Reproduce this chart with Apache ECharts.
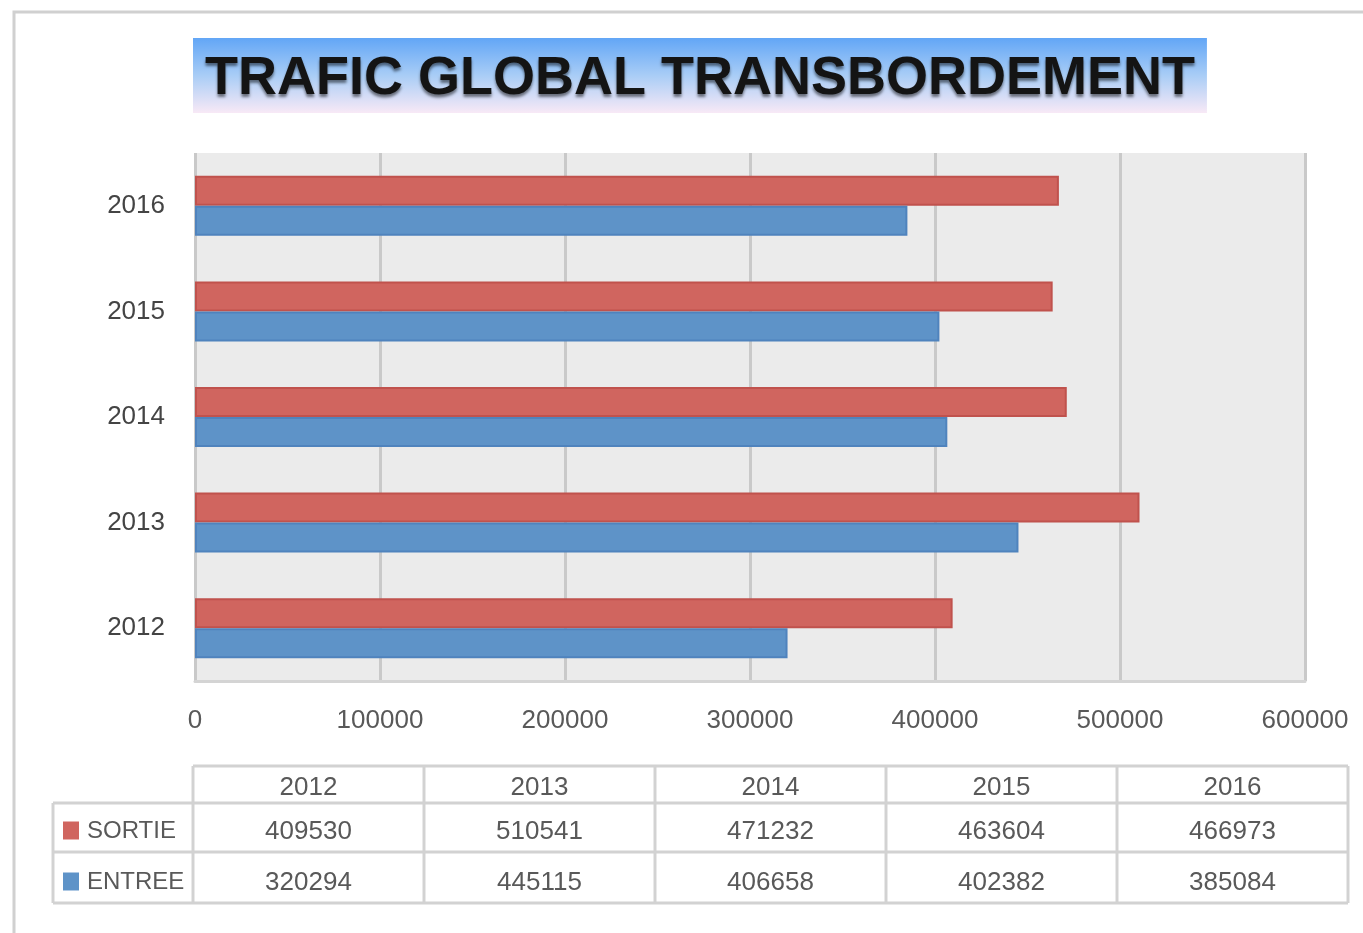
<!DOCTYPE html>
<html>
<head>
<meta charset="utf-8">
<script src="https://cdn.jsdelivr.net/npm/echarts@6/dist/echarts.min.js"></script>
<style>
  html, body { margin: 0; padding: 0; background: #fff; }
  #chart { width: 1363px; height: 933px; }
</style>
</head>
<body>
<div id="chart"></div>
<script>
// data
const years = ['2012', '2013', '2014', '2015', '2016']
const sortie = [409530, 510541, 471232, 463604, 466973]
const entree = [320294, 445115, 406658, 402382, 385084]
const seriesNames = ['SORTIE', 'ENTREE']
const seriesColors = ['#d0655f', '#5e93c8']
const seriesBorders = ['#c0524d', '#4f83bd']

const FONT = 'Liberation Sans'
const TEXT_GRAY = '#595959'
const LINE_GRAY = '#d2d2d2'

const chart = echarts.init(document.getElementById('chart'))

// data table below the plot, built from the same arrays
const tableLeft = 193
const colW = 231
const legendLeft = 53
const rowY = [766, 803, 852, 903]
const tableRight = tableLeft + colW * years.length

const tableGraphics = []
const hLine = (x1, x2, y) => tableGraphics.push({
  type: 'line', silent: true,
  shape: { x1, y1: y, x2, y2: y },
  style: { stroke: LINE_GRAY, lineWidth: 3 }
})
const vLine = (x, y1, y2) => tableGraphics.push({
  type: 'line', silent: true,
  shape: { x1: x, y1, x2: x, y2 },
  style: { stroke: LINE_GRAY, lineWidth: 3 }
})
const cellText = (text, x, y, align, size) => tableGraphics.push({
  type: 'text', silent: true, x, y,
  style: { text, fontSize: size || 26, fontFamily: FONT, fill: TEXT_GRAY, align: align || 'center', verticalAlign: 'middle' }
})

hLine(tableLeft, tableRight, rowY[0])
hLine(legendLeft, tableRight, rowY[1])
hLine(legendLeft, tableRight, rowY[2])
hLine(legendLeft, tableRight, rowY[3])
vLine(legendLeft, rowY[1], rowY[3])
for (let i = 0; i <= years.length; i++) {
  vLine(tableLeft + colW * i, rowY[0], rowY[3])
}
years.forEach((y, i) => {
  const cx = tableLeft + colW * i + colW / 2
  cellText(y, cx, (rowY[0] + rowY[1]) / 2 + 3)
  cellText(String(sortie[i]), cx, (rowY[1] + rowY[2]) / 2 + 4)
  cellText(String(entree[i]), cx, (rowY[2] + rowY[3]) / 2 + 5)
})
seriesNames.forEach((name, i) => {
  const cy = (rowY[i + 1] + rowY[i + 2]) / 2 + 3 + i
  tableGraphics.push({
    type: 'rect', silent: true,
    shape: { x: 63, y: cy - 9, width: 16, height: 18 },
    style: { fill: seriesColors[i] }
  })
  cellText(name, 87, cy + 1, 'left', 24)
})

const option = {
  backgroundColor: '#ffffff',
  animation: false,
  title: {
    text: 'TRAFIC GLOBAL TRANSBORDEMENT',
    left: 193,
    top: 38,
    padding: [11, 12, 4, 12],
    backgroundColor: new echarts.graphic.LinearGradient(0, 0, 0, 1, [
      { offset: 0, color: '#62a6f6' },
      { offset: 0.5, color: '#a9cdf6' },
      { offset: 1, color: '#f8e9f6' }
    ]),
    textStyle: {
      fontFamily: FONT,
      fontWeight: 'bold',
      fontSize: 54,
      lineHeight: 60,
      color: '#141414',
      textShadowColor: 'rgba(0,0,0,0.5)',
      textShadowBlur: 3,
      textShadowOffsetY: 3
    }
  },
  grid: {
    left: 195,
    right: 58,
    top: 153,
    bottom: 252,
    show: true,
    backgroundColor: '#ebebeb',
    borderWidth: 0
  },
  xAxis: {
    type: 'value',
    min: 0,
    max: 600000,
    interval: 100000,
    axisLine: { show: true, lineStyle: { color: '#d4d4d4', width: 3 } },
    axisTick: { show: false },
    splitLine: { show: true, lineStyle: { color: '#c9c9c9', width: 3 } },
    axisLabel: {
      fontFamily: FONT, fontSize: 26, color: TEXT_GRAY, margin: 27,
      formatter: v => String(v)
    }
  },
  yAxis: {
    type: 'category',
    data: years,
    axisLine: { show: false },
    axisTick: { show: false },
    splitLine: { show: false },
    axisLabel: { fontFamily: FONT, fontSize: 26, color: '#444', margin: 30, padding: [6, 0, 0, 0] }
  },
  series: [
    {
      name: seriesNames[0],
      type: 'bar',
      data: sortie,
      barWidth: 30,
      barGap: '0%',
      itemStyle: { color: seriesColors[0], borderColor: seriesBorders[0], borderWidth: 2 }
    },
    {
      name: seriesNames[1],
      type: 'bar',
      data: entree,
      barWidth: 30,
      barGap: '0%',
      itemStyle: { color: seriesColors[1], borderColor: seriesBorders[1], borderWidth: 2 }
    }
  ],
  graphic: [
    {
      type: 'polyline', silent: true,
      shape: { points: [[14, 933], [14, 12], [1363, 12]] },
      style: { stroke: '#d0d0d0', lineWidth: 3, fill: null }
    }
  ].concat(tableGraphics)
}

chart.setOption(option)
window.addEventListener('resize', () => chart.resize())
</script>
</body>
</html>
